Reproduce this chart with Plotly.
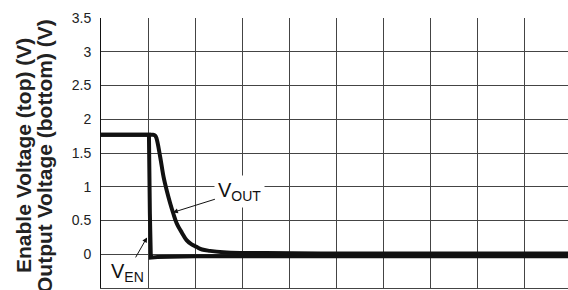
import plotly.graph_objects as go

# Time in grid divisions
t_ven = [0, 0.3, 0.6, 0.9, 1.02, 1.04, 1.06, 1.2, 2, 4, 6, 8, 10]
v_en = [1.77, 1.77, 1.76, 1.77, 1.77, 0.6, -0.05, -0.04, -0.03, -0.03, -0.03, -0.03, -0.03]

t_out = [0, 0.5, 1.0, 1.1, 1.15, 1.18, 1.26, 1.33, 1.40, 1.47, 1.54, 1.61, 1.72, 1.82, 1.92, 2.03, 2.15, 2.32, 2.6, 2.96, 3.5, 5, 7, 10]
v_out = [1.77, 1.77, 1.77, 1.77, 1.76, 1.72, 1.44, 1.15, 0.94, 0.76, 0.60, 0.46, 0.32, 0.21, 0.15, 0.11, 0.07, 0.05, 0.03, 0.02, 0.02, 0.01, 0.01, 0.01]

y_ticks = [-0.5, 0, 0.5, 1, 1.5, 2, 2.5, 3, 3.5]
y_labels = ["-0.5", "0", "0.5", "1", "1.5", "2", "2.5", "3", "3.5"]

title_lines = ["Enable Voltage (top) (V)", "Output Voltage (bottom) (V)"]

FONT = "Liberation Sans, Arial, sans-serif"
L, W = 101, 467

fig = go.Figure()
fig.add_trace(go.Scatter(x=t_ven, y=v_en, mode="lines",
                         line=dict(color="#111", width=4), showlegend=False))
fig.add_trace(go.Scatter(x=t_out, y=v_out, mode="lines", line_shape="spline",
                         line=dict(color="#111", width=4), showlegend=False))

fig.add_annotation(x=1.53, y=0.62, ax=67, ay=-21, text="V<sub>OUT</sub>",
                   showarrow=True, arrowhead=2, arrowsize=1, arrowwidth=1,
                   arrowcolor="#111", bgcolor="white", borderpad=3,
                   font=dict(family=FONT, size=20, color="#111"))
fig.add_annotation(x=0.98, y=0.25, ax=-20, ay=35, text="V<sub>EN</sub>",
                   showarrow=True, arrowhead=2, arrowsize=1, arrowwidth=1,
                   arrowcolor="#111", bgcolor="white", borderpad=2,
                   font=dict(family=FONT, size=20, color="#111"))

# two-line y-axis title, placed as rotated text
for px, line in zip([23, 44], title_lines):
    fig.add_annotation(xref="paper", yref="paper", x=(px - L) / W, y=(288 - 156) / 270,
                       text="<b>" + line + "</b>", textangle=-90, showarrow=False,
                       xanchor="center", yanchor="middle",
                       font=dict(family=FONT, size=21, color="#222"))

fig.update_layout(
    width=568, height=290,
    margin=dict(l=L, r=0, t=18, b=2),
    paper_bgcolor="white", plot_bgcolor="white",
    font=dict(family=FONT, color="#111"),
    xaxis=dict(range=[0, 9.936], dtick=1, showticklabels=False, automargin=False,
               showgrid=True, gridcolor="#444", gridwidth=1, zeroline=False,
               showline=True, linecolor="#444", mirror=False),
    yaxis=dict(range=[-0.5, 3.5], tickvals=y_ticks, ticktext=y_labels, automargin=False,
               showgrid=True, gridcolor="#444", gridwidth=1, zeroline=False,
               showline=True, linecolor="#111", linewidth=1, ticks="",
               ticklabelstandoff=6,
               tickfont=dict(family=FONT, size=14, color="#222")),
)

fig.write_html("out.html", config={"displayModeBar": False},
               post_script="document.body.style.margin='0px';document.body.style.overflow='hidden';")
